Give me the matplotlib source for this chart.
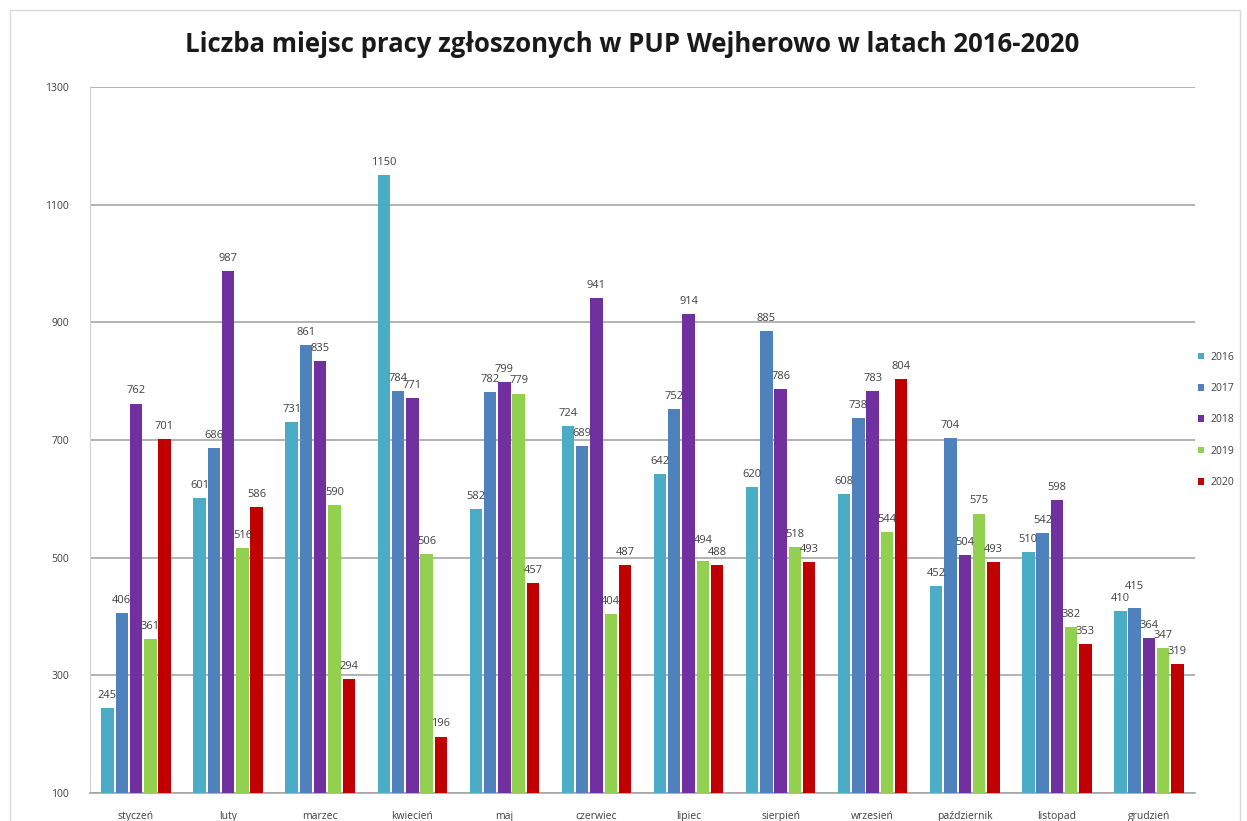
import matplotlib
matplotlib.use("Agg")
import matplotlib.pyplot as plt
import numpy as np

months = ["styczeń", "luty", "marzec", "kwiecień", "maj", "czerwiec", "lipiec",
          "sierpień", "wrzesień", "październik", "listopad", "grudzień"]
years = ["2016", "2017", "2018", "2019", "2020"]
v2016 = [245, 601, 731, 1150, 582, 724, 642, 620, 608, 452, 510, 410]
v2017 = [406, 686, 861, 784, 782, 689, 752, 885, 738, 704, 542, 415]
v2018 = [762, 987, 835, 771, 799, 941, 914, 786, 783, 504, 598, 364]
v2019 = [361, 516, 590, 506, 779, 404, 494, 518, 544, 575, 382, 347]
v2020 = [701, 586, 294, 196, 457, 487, 488, 493, 804, 493, 353, 319]
series = [v2016, v2017, v2018, v2019, v2020]
colors = ["#4BACC6", "#4F81BD", "#7030A0", "#92D050", "#C00000"]
yticks = [100, 300, 500, 700, 900, 1100, 1300]

plt.rcParams['font.family'] = ['Open Sans', 'DejaVu Sans']

fig = plt.figure(figsize=(12.47, 8.21), dpi=100)
ax = fig.add_axes([90/1247, 1-793/821, (1195-90)/1247, (793-87)/821])

x = np.arange(len(months))
step = 0.155
width = 0.135
for i, (vals, col, yr) in enumerate(zip(series, colors, years)):
    pos = x + (i - 2) * step
    ax.bar(pos, np.array(vals) - 100, bottom=100, width=width, color=col, label=yr, zorder=3)

# data labels, nudging the higher one of two near-equal neighbours upward
for g in range(len(months)):
    vals = [s[g] for s in series]
    ys = [v + 12 for v in vals]
    for i in range(1, len(vals)):
        if abs(ys[i] - ys[i - 1]) < 10:
            if vals[i] > vals[i - 1]:
                ys[i] = ys[i - 1] + 20
            else:
                ys[i - 1] = ys[i] + 20
    for i, (v, yl) in enumerate(zip(vals, ys)):
        ax.text(g + (i - 2) * step, yl, str(v), ha='center', va='bottom',
                fontsize=8, color='#404040', zorder=4)

ax.set_ylim(100, 1300)
ax.set_xlim(-0.5, len(months) - 0.5)
ax.set_yticks(yticks)
ax.set_yticklabels([str(t) for t in yticks], fontsize=7.5, color='#404040')
ax.set_xticks(x)
ax.set_xticklabels(months, fontsize=7.5, color='#404040')
ax.tick_params(axis='x', length=0, pad=13)
ax.tick_params(axis='y', length=0, pad=15)
ax.grid(axis='y', color='#A6A6A6', linewidth=1.2, zorder=0)
for s in ['top', 'right']:
    ax.spines[s].set_visible(False)
ax.spines['left'].set_color('#D0D0D0')
ax.spines['bottom'].set_color('#A6A6A6')
ax.spines['bottom'].set_linewidth(1.2)

leg = ax.legend(loc='upper left', bbox_to_anchor=(0.997, 0.634), frameon=False,
                fontsize=7.5, handlelength=0.6, handleheight=0.6, labelspacing=1.95,
                handletextpad=0.6, borderaxespad=0.2)
for t in leg.get_texts():
    t.set_color('#404040')

fig.text(632/1247, 1-45/821, "Liczba miejsc pracy zgłoszonych w PUP Wejherowo w latach 2016-2020",
         ha='center', va='center', fontsize=18.5, fontweight='bold', color='#1a1a1a')

fig.patches.append(plt.Rectangle((10/1247, -0.01), 1230/1247, 1-10/821 + 0.01, transform=fig.transFigure,
                                 fill=False, edgecolor='#D9D9D9', linewidth=1))
fig.savefig("out.png", dpi=100)
